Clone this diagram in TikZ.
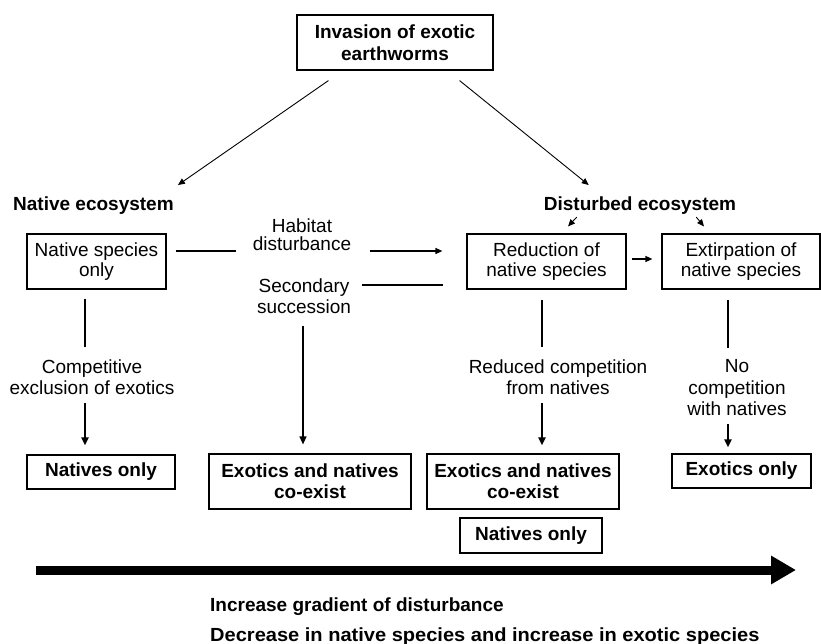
\documentclass[tikz,border=0pt]{standalone}
\usepackage{fontspec}
\usepackage{graphicx}
\setmainfont{Liberation Sans}
\usetikzlibrary{arrows.meta}
\begin{document}
\begin{tikzpicture}[x=1pt,y=-1pt,
  box/.style={draw, line width=1.2pt, inner sep=0pt, align=center, font=\fontsize{19}{20}\selectfont},
  bbox/.style={draw, line width=1.2pt, inner sep=0pt, align=center, font=\bfseries\fontsize{19}{21}\selectfont},
  lab/.style={inner sep=0pt, align=center, font=\fontsize{19}{21.5}\selectfont},
  blab/.style={inner sep=0pt, font=\bfseries\fontsize{19}{21}\selectfont},
  tipsmall/.style={-{Triangle[length=7pt,width=6pt]}},
  tipbig/.style={-{Triangle[length=8pt,width=7pt]}},
  thinline/.style={line width=0.9pt},
  midline/.style={line width=1.3pt},
  thickline/.style={line width=2pt}]
\useasboundingbox (0,0) rectangle (821,644);

% nodes
\node[bbox, minimum width=196pt, minimum height=55pt, font=\bfseries\fontsize{19}{22}\selectfont] (inv) at (395,42.5) {Invasion of exotic\\earthworms};
\node[blab, anchor=base west] (natlab) at (13,211) {Native ecosystem};
\node[blab, anchor=base] (distlab) at (640,211) {Disturbed ecosystem};

\node[box, minimum width=139pt, minimum height=55pt] (nat) at (96.5,261.5) {Native species\\only};
\node[box, minimum width=159pt, minimum height=55pt] (red) at (546.5,261.5) {Reduction of\\native species};
\node[box, minimum width=158pt, minimum height=55pt] (ext) at (741,261.5) {Extirpation of\\native species};

\node[lab, font=\fontsize{19}{18}\selectfont] (hab) at (302,235) {Habitat\\disturbance};
\node[lab, font=\fontsize{19}{21}\selectfont] (sec) at (304,296) {Secondary\\succession};

\node[lab] (comp) at (92,377.4) {Competitive\\exclusion of exotics};
\node[lab] (redc) at (558,377.4) {Reduced competition\\from natives};
\node[lab] (noc) at (737,388) {No\\competition\\with natives};

\node[bbox, minimum width=148pt, minimum height=34pt] (natonly) at (101,472) {Natives only};
\node[bbox, minimum width=202pt, minimum height=55pt] (coex1) at (310,481.5) {Exotics and natives\\co-exist};
\node[bbox, minimum width=192pt, minimum height=55pt] (coex2) at (523,481.5) {Exotics and natives\\co-exist};
\node[bbox, minimum width=142pt, minimum height=35pt] (natonly2) at (531,535.5) {Natives only};
\node[bbox, minimum width=139pt, minimum height=34pt] (exo) at (741.5,471) {Exotics only};

\node[blab, anchor=base west] (inc) at (210,611) {Increase gradient of disturbance};
\node[blab, anchor=base west] (dec) at (210,641) {\scalebox{1.055}[1]{Decrease in native species and increase in exotic species}};

% helper coordinates
\coordinate (hy) at (0,251);
\coordinate (sy) at (0,285);
\coordinate (lc) at (85,0);
\coordinate (sc) at (303,0);
\coordinate (mc) at (542,0);
\coordinate (rc) at (728,0);
\coordinate (gs) at (36,570);
\coordinate (ge) at (796,570);

% diagonal arrows from the top box
\draw[thinline, tipsmall] ([xshift=32pt,yshift=-10pt]inv.south west) -- ([xshift=4pt,yshift=12pt]natlab.north east);
\draw[thinline, tipsmall] ([xshift=-34pt,yshift=-10pt]inv.south east) -- ([xshift=45pt,yshift=12pt]distlab.north west);

% small arrows under Disturbed ecosystem
\draw[thinline, tipsmall] ([xshift=33pt,yshift=-2pt]distlab.south west) -- ([xshift=21.5pt,yshift=7pt]red.north);
\draw[thinline, tipsmall] ([xshift=-40pt,yshift=-2pt]distlab.south east) -- ([xshift=-37pt,yshift=7pt]ext.north);

% reduction -> extirpation
\draw[midline, tipsmall] ([xshift=5pt,yshift=2.5pt]red.east) -- ([xshift=-9pt,yshift=2.5pt]ext.west);

% habitat disturbance
\draw[midline, shorten <=9pt, shorten >=16.5pt] (nat.east |- hy) -- (hab.west |- hy);
\draw[midline, tipsmall, shorten <=18.5pt, shorten >=24pt] (hab.east |- hy) -- (red.west |- hy);

% secondary succession
\draw[midline, shorten <=11pt, shorten >=23pt] (sec.east |- sy) -- (red.west |- sy);
\draw[midline, tipbig, shorten <=12pt, shorten >=9pt] (sec.south -| sc) -- (coex1.north -| sc);

% left column
\draw[thickline, shorten <=9pt, shorten >=12pt] (nat.south -| lc) -- (comp.north -| lc);
\draw[thickline, tipbig, shorten <=8pt, shorten >=9pt] (comp.south -| lc) -- (natonly.north -| lc);

% middle column
\draw[thickline, shorten <=10pt, shorten >=12pt] (red.south -| mc) -- (redc.north -| mc);
\draw[thickline, tipbig, shorten <=8pt, shorten >=8pt] (redc.south -| mc) -- (coex2.north -| mc);

% right column
\draw[thickline, shorten <=10pt, shorten >=12pt] (ext.south -| rc) -- (noc.north -| rc);
\draw[thickline, tipbig, shorten <=8pt, shorten >=6pt] (noc.south -| rc) -- (exo.north -| rc);

% gradient arrow
\draw[line width=9pt, -{Triangle[length=25pt,width=27pt]}] (gs) -- (ge);
\end{tikzpicture}
\end{document}
